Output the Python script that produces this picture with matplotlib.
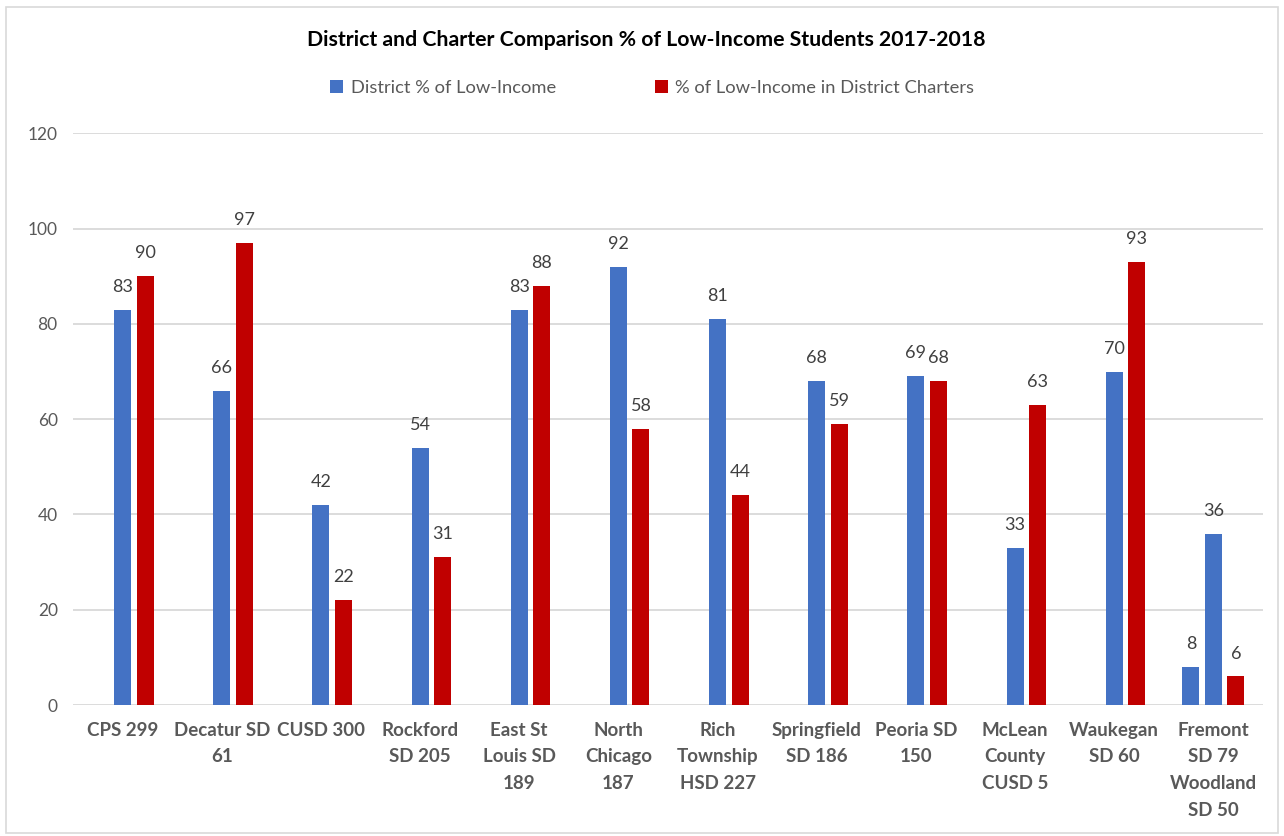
import numpy as np
import matplotlib.pyplot as plt
from matplotlib.patches import Rectangle

plt.rcParams['font.family'] = ['Lato', 'DejaVu Sans']

# district names (x axis)
districts = ["CPS 299", "Decatur SD\n61", "CUSD 300", "Rockford\nSD 205",
             "East St\nLouis SD\n189", "North\nChicago\n187", "Rich\nTownship\nHSD 227",
             "Springfield\nSD 186", "Peoria SD\n150", "McLean\nCounty\nCUSD 5",
             "Waukegan\nSD 60", "Fremont\nSD 79\nWoodland\nSD 50"]

# % of low-income students in the district
district_pct = [83, 66, 42, 54, 83, 92, 81, 68, 69, 33, 70, 36]

# % of low-income students in the district's charters
charter_pct = [90, 97, 22, 31, 88, 58, 44, 59, 68, 63, 93, 6]

# second district of the last group (Fremont / Woodland)
second_district_pct = [np.nan] * 11 + [8]

blue = "#4472C4"
red = "#C00000"
txt = "#595959"

fig = plt.figure(figsize=(12.84, 8.36), dpi=100)
ax = fig.add_axes([73 / 1284, 1 - 705 / 836, (1263 - 73) / 1284, (705 - 133.4) / 836])

x = np.arange(len(districts))
slot = 0.227
w = 0.17

b0 = ax.bar(x - slot, second_district_pct, w, color=blue)
b1 = ax.bar(x, district_pct, w, color=blue, label="District % of Low-Income")
b2 = ax.bar(x + slot, charter_pct, w, color=red, label="% of Low-Income in District Charters")

for bars, vals in [(b0, second_district_pct), (b1, district_pct), (b2, charter_pct)]:
    for rect, v in zip(bars, vals):
        if np.isnan(v):
            continue
        ax.annotate(f"{v:g}", (rect.get_x() + rect.get_width() / 2, v),
                    xytext=(0, 16.5), textcoords="offset points",
                    ha="center", va="center", fontsize=13, color="#404040")

ax.set_xlim(-0.5, len(districts) - 0.5)
ax.set_ylim(0, 120)
ax.set_yticks(range(0, 121, 20))
ax.yaxis.grid(True, color="#d9d9d9", linewidth=1.3)
ax.set_axisbelow(True)
for s in ax.spines.values():
    s.set_visible(False)
ax.tick_params(length=0)
ax.tick_params(axis="y", labelsize=12.5, labelcolor=txt, pad=11)
ax.set_xticks(x)
ax.set_xticklabels(districts, fontsize=13.5, color=txt, fontweight="bold", linespacing=1.7)
ax.tick_params(axis="x", pad=12)

fig.text(0.503, 1 - 40 / 836, "District and Charter Comparison % of Low-Income Students 2017-2018",
         ha="center", va="center", fontsize=15.3, fontweight="bold", color="black")

fig.legend(loc="center", bbox_to_anchor=(0.508, 1 - 88 / 836), ncol=2, frameon=False,
           fontsize=13.2, labelcolor=txt, handlelength=0.7, handleheight=0.7,
           handletextpad=0.4, columnspacing=5.4)

fig.patches.append(Rectangle((6 / 1284, 3 / 836), 1272 / 1284, 826 / 836,
                             transform=fig.transFigure, fill=False,
                             edgecolor="#d9d9d9", linewidth=1.2))

fig.savefig("out.png", dpi=100)
